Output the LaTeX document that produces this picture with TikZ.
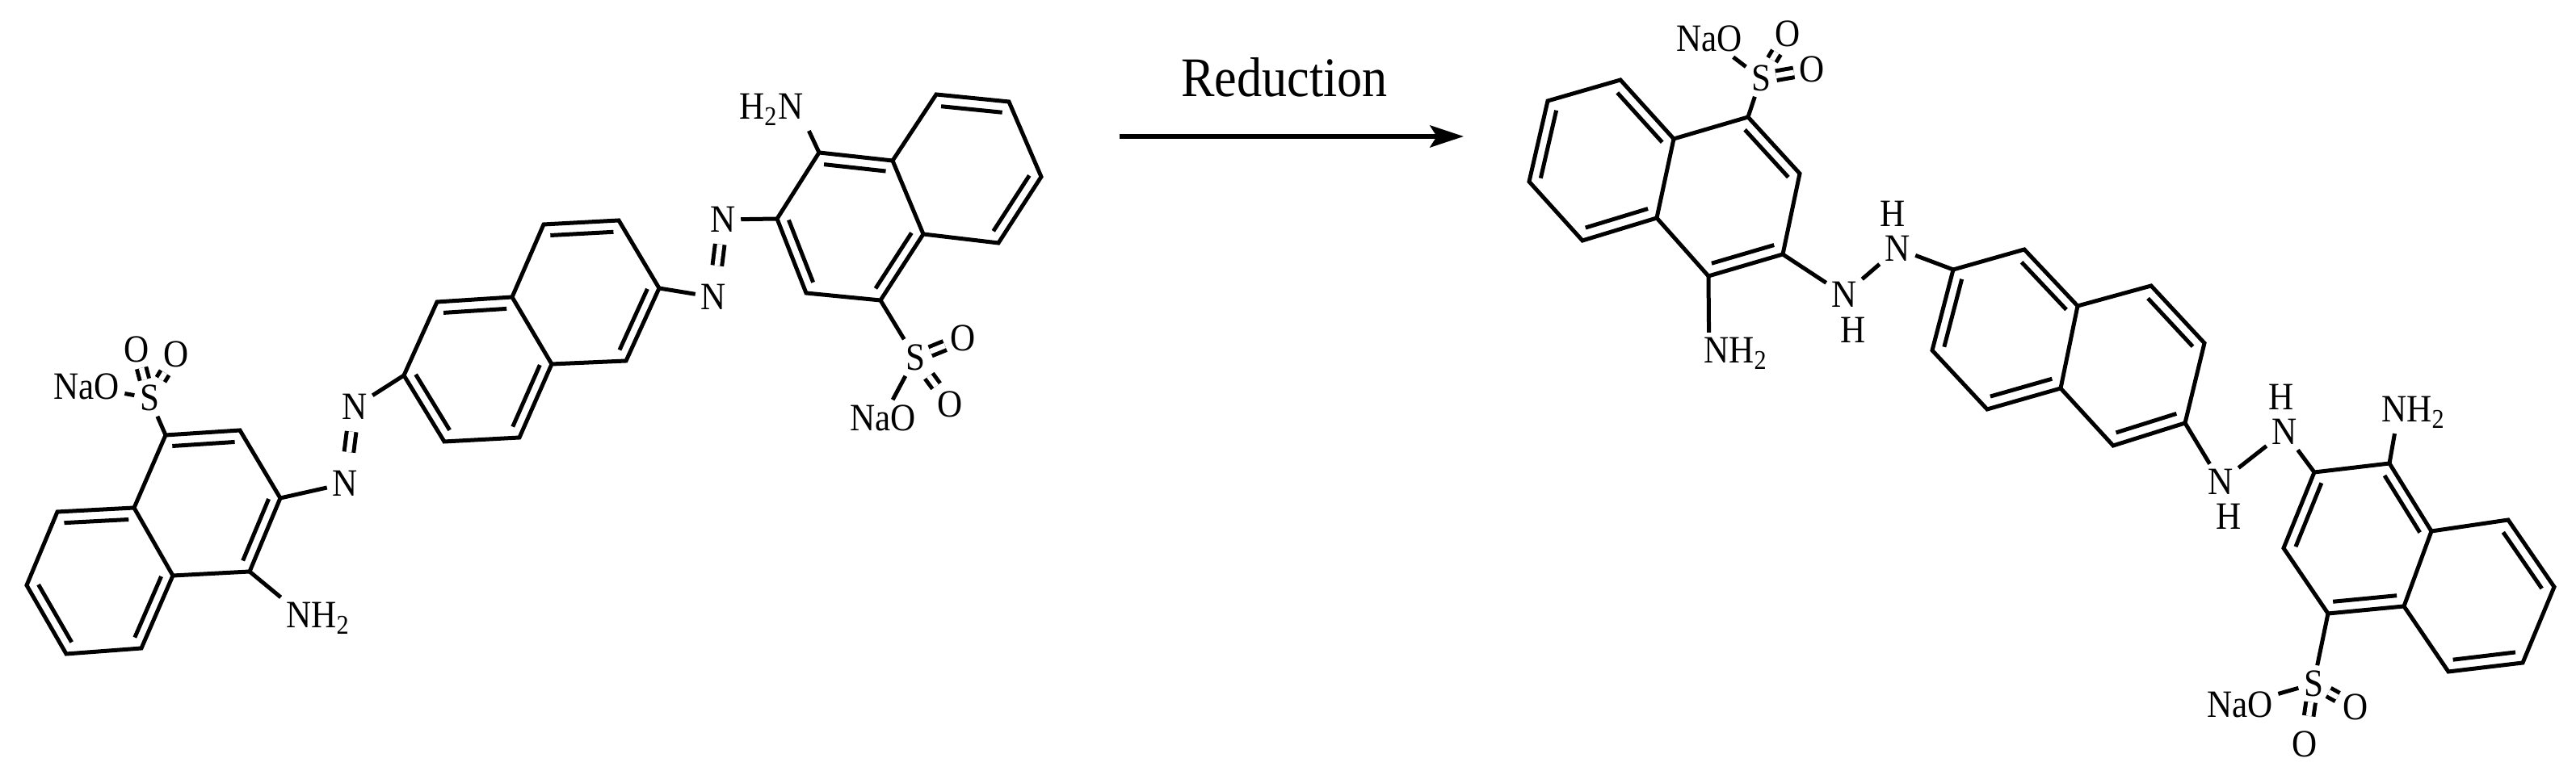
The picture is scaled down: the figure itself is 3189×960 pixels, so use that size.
\documentclass[tikz,border=0pt]{standalone}
\usepackage{fontspec}
\setmainfont[FakeStretch=0.9]{Liberation Serif}
\usetikzlibrary{calc,arrows.meta}
\newcommand{\ib}[3]{\draw ($(#1)!0.16!(#3)$) -- ($(#2)!0.16!(#3)$);}
\tikzset{
  atom/.style={inner sep=1pt,font=\fontsize{11.5}{12}\selectfont},
  dbl/.style={double,double distance=1.6pt},
  azo/.style={dbl,shorten <=4pt,shorten >=2pt},
}

\begin{document}
\begin{tikzpicture}[x=0.24pt,y=-0.24pt,line width=1.2pt]
  \useasboundingbox (0,0) rectangle (3189,960);
  % ring atoms, left molecule
  \foreach \p/\x/\y in {a1/205/539,a2/297/533,a3/347/617,a4/309/708,a5/214/713,a6/166/629,
    b1/71/634,b2/33/725,b3/82/810,b4/175/803,
    m1/500/465,m2/550/547,m3/643/542,m4/683/451,m5/634/368,m6/541/374,
    n1/775/447,n2/816/357,n3/766/273,n4/673/278,
    c1/1014/189,c2/1105/199,c3/1143/290,c4/1090/372,c5/998/363,c6/962/271,
    d1/1159/117,d2/1249/126,d3/1289/219,d4/1236/301}
    \coordinate (\p) at (\x,\y);
  % ring atoms, right molecule
  \foreach \p/\x/\y in {e1/2164/145,e2/2228/215,e3/2207/315,e4/2115/342,e5/2051/270,e6/2072/172,
    f1/2006/99,f2/1916/125,f3/1893/225,f4/1959/298,
    g1/2418/334,g2/2506/309,g3/2392/434,g4/2460/507,g5/2551/481,g6/2572/379,
    h1/2663/354,h2/2729/425,h3/2705/524,h4/2616/552,
    i1/2865/585,i2/2958/574,i3/3010/658,i4/2976/751,i5/2882/760,i6/2827/679,
    j1/3105/644,j2/3162/727,j3/3123/821,j4/3031/832}
    \coordinate (\p) at (\x,\y);
  % ring centres
  \foreach \c/\p/\q in {ca/a1/a4,cb/a6/b3,cm/m1/m4,cn/m5/n2,cc/c1/c4,cd/c2/d3,
    ce/e1/e4,cf/e6/f3,cg/g1/g5,ch/g6/h3,ci/i1/i4,cj/i3/j3}
    \coordinate (\c) at ($(\p)!0.5!(\q)$);

  % left molecule
  \draw (a1) -- (a2) -- (a3) -- (a4) -- (a5) -- (a6) -- cycle;
  \draw (a6) -- (b1) -- (b2) -- (b3) -- (b4) -- (a5);
  \ib{a1}{a2}{ca} \ib{a3}{a4}{ca} \ib{a6}{b1}{cb} \ib{b2}{b3}{cb} \ib{b4}{a5}{cb}
  \draw (m1) -- (m2) -- (m3) -- (m4) -- (m5) -- (m6) -- cycle;
  \draw (m5) -- (n4) -- (n3) -- (n2) -- (n1) -- (m4);
  \ib{m1}{m2}{cm} \ib{m3}{m4}{cm} \ib{m5}{m6}{cm} \ib{n4}{n3}{cn} \ib{n2}{n1}{cn}
  \draw (c1) -- (c2) -- (c3) -- (c4) -- (c5) -- (c6) -- cycle;
  \draw (c2) -- (d1) -- (d2) -- (d3) -- (d4) -- (c3);
  \ib{c1}{c2}{cc} \ib{c3}{c4}{cc} \ib{c5}{c6}{cc} \ib{d1}{d2}{cd} \ib{d3}{d4}{cd}

  \node[atom] (sA) at (185,493) {S};
  \node[atom] (naoA) at (107,479) {NaO};
  \node[atom] (oA) at (169,433) {O};
  \node[atom] (oB) at (218,439) {O};
  \node[atom] (nhA) at (394,766) {NH\textsubscript{2}};
  \node[atom] (nA) at (427,599) {N};
  \node[atom] (nB) at (439,504) {N};
  \draw (a1) -- (sA);
  \draw (naoA) -- (sA);
  \draw[dbl] (sA) -- (oA);
  \draw[dbl] (sA) -- (oB);
  \draw (a4) -- (nhA.north west);
  \draw (a3) -- (nA);
  \draw[azo] (nA) -- (nB);
  \draw (nB) -- (m1);

  \node[atom] (nC) at (883,368) {N};
  \node[atom] (nD) at (895,272) {N};
  \node[atom] (nhB) at (955,136) {H\textsubscript{2}N};
  \node[atom] (sB) at (1133,443) {S};
  \node[atom] (oC) at (1192,419) {O};
  \node[atom] (oD) at (1176,501) {O};
  \node[atom] (naoB) at (1093,518) {NaO};
  \draw (n2) -- (nC);
  \draw[azo] (nC) -- (nD);
  \draw (nD) -- (c6);
  \draw (c1) -- (nhB.south east);
  \draw (c4) -- (sB);
  \draw[dbl] (sB) -- (oC);
  \draw[dbl] (sB) -- (oD);
  \draw (sB) -- (naoB);

  % reaction arrow
  \coordinate (arrS) at (1386,169);
  \coordinate (arrE) at (1812,169);
  \draw[line width=1.4pt,-{Stealth[length=10pt,width=6.5pt,inset=2pt]}] (arrS) -- (arrE);
  \node[inner sep=0pt,font=\fontsize{16.6}{18}\selectfont] (redn) at (1590,96) {Reduction};

  % right molecule
  \draw (e1) -- (e2) -- (e3) -- (e4) -- (e5) -- (e6) -- cycle;
  \draw (e6) -- (f1) -- (f2) -- (f3) -- (f4) -- (e5);
  \ib{e1}{e2}{ce} \ib{e3}{e4}{ce} \ib{e6}{f1}{cf} \ib{f2}{f3}{cf} \ib{f4}{e5}{cf}
  \draw (g1) -- (g2) -- (g6) -- (g5) -- (g4) -- (g3) -- cycle;
  \draw (g6) -- (h1) -- (h2) -- (h3) -- (h4) -- (g5);
  \ib{g1}{g3}{cg} \ib{g2}{g6}{cg} \ib{g5}{g4}{cg} \ib{h1}{h2}{ch} \ib{h3}{h4}{ch}
  \draw (i1) -- (i2) -- (i3) -- (i4) -- (i5) -- (i6) -- cycle;
  \draw (i3) -- (j1) -- (j2) -- (j3) -- (j4) -- (i4);
  \ib{i2}{i3}{ci} \ib{i4}{i5}{ci} \ib{i6}{i1}{ci} \ib{j1}{j2}{cj} \ib{j3}{j4}{cj}

  \node[atom] (sC) at (2180,97) {S};
  \node[atom] (naoC) at (2116,48) {NaO};
  \node[atom] (oE) at (2213,42) {O};
  \node[atom] (oF) at (2243,86) {O};
  \node[atom] (nhC) at (2149,438) {NH\textsubscript{2}};
  \node[atom] (nE) at (2283,365) {N};
  \node[atom] (hE) at (2294,409) {H};
  \node[atom] (nF) at (2349,308) {N};
  \node[atom] (hF) at (2343,265) {H};
  \draw (e1) -- (sC);
  \draw (naoC) -- (sC);
  \draw[dbl] (sC) -- (oE);
  \draw[dbl] (sC) -- (oF);
  \draw (e4) -- (nhC.142);
  \draw (e3) -- (nE);
  \draw (nE) -- (nF);
  \draw (nF) -- (g1);

  \node[atom] (nG) at (2749,597) {N};
  \node[atom] (hG) at (2759,640) {H};
  \node[atom] (nH) at (2828,535) {N};
  \node[atom] (hH) at (2824,492) {H};
  \node[atom] (nhD) at (2988,511) {NH\textsubscript{2}};
  \node[atom] (sD) at (2864,847) {S};
  \node[atom] (naoD) at (2773,873) {NaO};
  \node[atom] (oG) at (2916,876) {O};
  \node[atom] (oH) at (2853,922) {O};
  \draw (h3) -- (nG);
  \draw (nG) -- (nH);
  \draw (nH) -- (i1);
  \draw (i2) -- (nhD.228);
  \draw (i5) -- (sD);
  \draw (sD) -- (naoD);
  \draw[dbl] (sD) -- (oG);
  \draw[dbl,shorten >=3pt] (sD) -- (oH);
\end{tikzpicture}
\end{document}
